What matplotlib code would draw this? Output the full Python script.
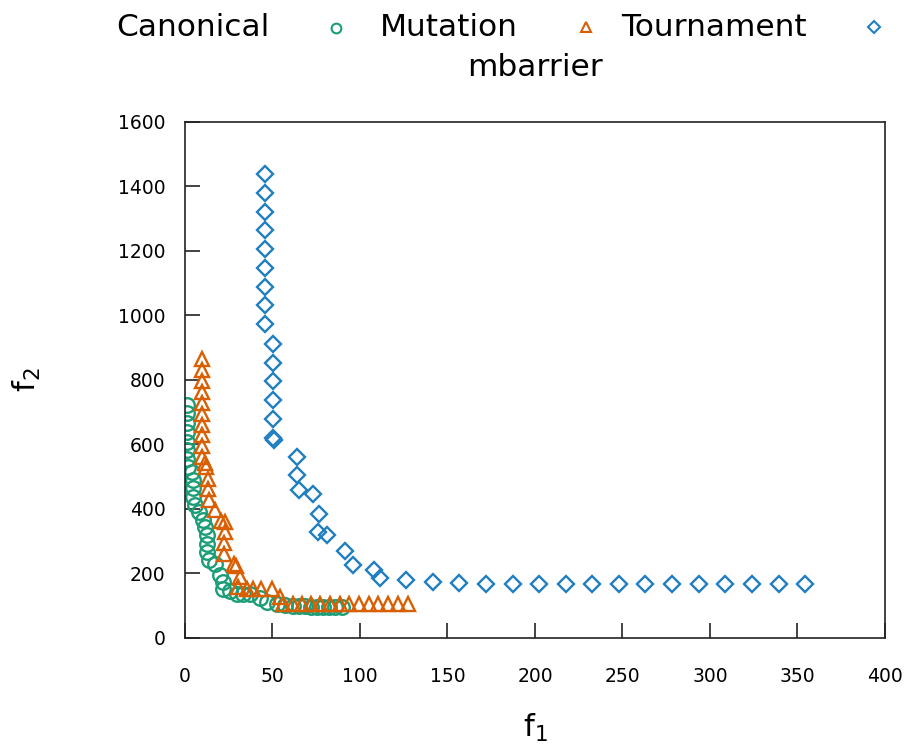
import matplotlib
matplotlib.use("Agg")
import matplotlib.pyplot as plt
from matplotlib.lines import Line2D

# Pareto fronts (f1 vs f2) for each selection variant
canonical_f1 = [0.9, 0.9, 0.9, 0.9, 0.9, 0.9, 0.9, 2.0, 3.8, 4.4, 4.4, 4.8, 5.7, 8.2, 10.5,
                11.4, 12.4, 12.6, 12.8, 13.9, 17.1, 20.0, 21.5, 21.9, 25.7, 29.5, 33.3,
                37.1, 42.9, 46.7, 52.4, 57.0, 61.5, 65.0, 68.5, 72.0, 75.5, 79.0, 82.5,
                86.0, 89.5]
canonical_f2 = [721, 696, 665, 638, 607, 581, 555, 529, 514, 489, 463, 437, 411, 391, 365,
                343, 318, 292, 266, 241, 230, 194, 174, 151, 145, 137, 137,
                137, 122, 111, 104, 101, 99, 98, 97, 96, 96, 95, 95,
                94, 94]

mutation_f1 = [9.8, 9.8, 9.8, 9.8, 9.8, 9.8, 9.8, 9.8, 9.8, 9.8, 11.4, 11.9, 13.3, 13.3,
               14.0, 17.1, 20.6, 22.9, 22.9, 22.3, 22.3, 28.2, 29.1, 31.4, 30.5, 35.2,
               39.0, 43.7, 49.5, 54.3, 56.2, 61.5, 66.7, 71.8, 77.1, 82.9, 88.6, 93.9,
               99.6, 105.3, 110.5, 116.2, 121.9, 127.6]
mutation_f2 = [864, 830, 795, 761, 728, 694, 661, 627, 594, 559, 541, 528, 492, 461,
               428, 396, 362, 358, 327, 293, 260, 230, 223, 189, 156, 151,
               151, 151, 151, 125, 104, 104, 104, 104, 104, 104, 104, 104,
               104, 104, 104, 104, 104, 104]

tournament_f1 = [45.7, 45.7, 45.7, 45.7, 45.7, 45.7, 45.7, 45.7, 45.7,
                 50.1, 50.1, 50.1, 50.1, 50.1, 50.1, 51.0,
                 63.8, 63.8, 65.3, 73.3, 76.6, 76.2, 81.0, 91.4, 96.2, 108.2, 111.4,
                 126.3, 141.5, 156.7, 172.0, 187.3, 202.5, 217.7, 232.7, 247.8, 263.0,
                 278.3, 293.5, 308.7, 323.9, 339.3, 354.3]
tournament_f2 = [1438, 1380, 1321, 1264, 1205, 1146, 1088, 1031, 972,
                 912, 852, 795, 736, 677, 620, 614,
                 560, 503, 459, 444, 384, 327, 317, 270, 226, 211, 184,
                 179, 172, 169, 168, 168, 168, 168, 168, 168, 168,
                 168, 168, 168, 168, 168, 168]

x_ticks = [0, 50, 100, 150, 200, 250, 300, 350, 400]
y_ticks = [0, 200, 400, 600, 800, 1000, 1200, 1400, 1600]

green = "#1b9e77"
orange = "#d95f02"
blue = "#1f7fc0"

plt.rcParams["font.family"] = ["DejaVu Sans"]
plt.rcParams["mathtext.default"] = "regular"

fig = plt.figure(figsize=(9.09, 7.49), dpi=100)
ax = fig.add_axes([0.2035, 0.1486, 0.77, 0.689])

ax.plot(canonical_f1, canonical_f2, linestyle="none", marker="o", markersize=10.5,
        markerfacecolor="none", markeredgecolor=green, markeredgewidth=1.7)
ax.plot(mutation_f1, mutation_f2, linestyle="none", marker="^", markersize=10,
        markerfacecolor="none", markeredgecolor=orange, markeredgewidth=1.7)
ax.plot(tournament_f1, tournament_f2, linestyle="none", marker="D", markersize=8,
        markerfacecolor="none", markeredgecolor=blue, markeredgewidth=1.7)

ax.set_xlim(0, 400)
ax.set_ylim(0, 1600)
ax.set_xticks(x_ticks)
ax.set_yticks(y_ticks)
ax.tick_params(axis="both", direction="in", length=10.5, width=1.2, color="#222222",
               labelsize=13.5, top=False, right=False)
ax.tick_params(axis="x", pad=21)
ax.tick_params(axis="y", pad=14)
for spine in ax.spines.values():
    spine.set_linewidth(1.2)
    spine.set_color("#222222")

ax.set_xlabel("f$_1$", fontsize=22, labelpad=19)
ax.set_ylabel("f$_2$", fontsize=22, labelpad=54)

# key across the top: label followed by its sample marker
W, H = 909, 749
def key_text(x, y, s):
    fig.text(x / W, 1 - y / H, s, fontsize=22.5, ha="left", va="center")

def key_marker(x, y, marker, color, size):
    fig.add_artist(Line2D([x / W], [1 - y / H], transform=fig.transFigure,
                          linestyle="none", marker=marker, markersize=size,
                          markerfacecolor="none", markeredgecolor=color,
                          markeredgewidth=1.5))

key_text(116, 28, "Canonical")
key_marker(336, 28, "o", green, 7)
key_text(380, 27, "Mutation")
key_marker(586, 27, "^", orange, 7)
key_text(621, 27, "Tournament")
key_marker(874, 27, "D", blue, 6)
fig.text(535 / W, 1 - 68 / H, "mbarrier", fontsize=22.5, ha="center", va="center")

fig.savefig("out.png", dpi=100)
